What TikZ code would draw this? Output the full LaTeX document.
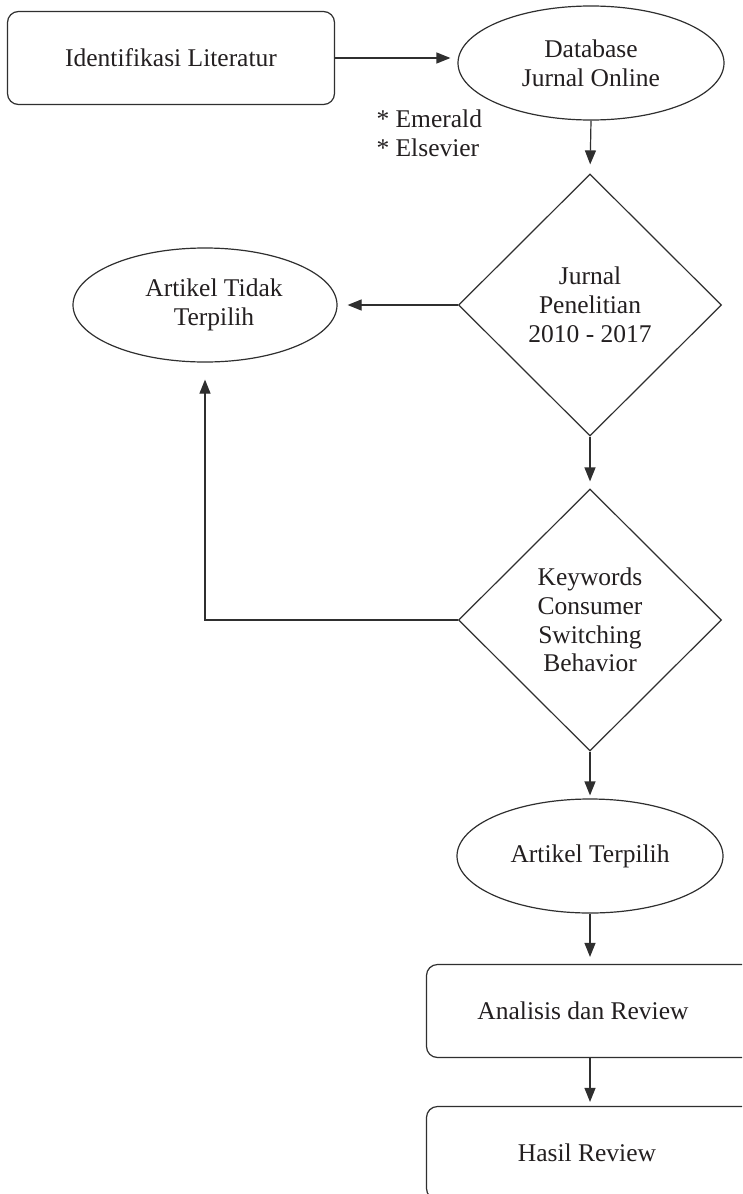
\documentclass[tikz,border=0pt]{standalone}
\usepackage{fontspec}
\setmainfont{Liberation Serif}
\usetikzlibrary{shapes.geometric,arrows.meta}
\definecolor{ln}{HTML}{2F2F2F}
\definecolor{tx}{HTML}{231F20}
\begin{document}
\begin{tikzpicture}[x=1pt,y=-1pt,
  every node/.style={font=\fontsize{25.5}{28.8}\selectfont, text=tx, align=center},
  shapeline/.style={draw=ln, line width=1.2pt},
  rbox/.style={shapeline, rectangle, rounded corners=11pt, minimum width=327pt, minimum height=93pt, inner sep=0pt},
  ell/.style={shapeline, ellipse, minimum width=266pt, minimum height=114pt, inner sep=0pt},
  dia/.style={shapeline, diamond, minimum width=263pt, minimum height=262pt, inner sep=0pt},
  lnk/.style={draw=ln, line width=1.2pt, -{Triangle[length=14pt,width=11pt]}, shorten >=7pt}
]
\useasboundingbox (0,0) rectangle (742,1194);
\fill[white] (0,0) rectangle (742,1194);
\clip (0,0) rectangle (742,1194);

\node[rbox] (ident) at (171,58) {Identifikasi Literatur};
\node[ell] (db) at (591,63) {Database\\Jurnal Online};
\node[anchor=west, align=left] (src) at (373,133) {* Emerald\\* Elsevier};
\node[dia] (d1) at (590,305) {Jurnal\\Penelitian\\2010 - 2017};
\node[ell, minimum width=264pt] (tidak) at (205,305) {\hspace*{18pt}Artikel Tidak\\\hspace*{18pt}Terpilih};
\node[dia] (d2) at (590,620) {Keywords\\Consumer\\Switching\\Behavior};
\node[ell] (pilih) at (590,856) {Artikel Terpilih};
\node[rbox] (anal) at (590,1011) {Analisis dan Review\hspace*{14pt}};
\node[rbox] (hasil) at (590,1153) {Hasil Review\hspace*{6pt}};

\draw[lnk] (ident.east) -- (ident.east -| db.west);
\draw[lnk, shorten >=9pt] (db.south) -- (d1.north);
\draw[lnk, shorten >=10pt] (d1.west) -- (d1.west -| tidak.east);
\draw[lnk] (d1.south) -- (d2.north);
\draw[lnk, shorten >=17pt] (d2.west) -| (tidak.south);
\draw[lnk, shorten >=3pt] (d2.south) -- (pilih.north);
\draw[lnk] (pilih.south) -- (anal.north);
\draw[lnk, shorten >=4pt] (anal.south) -- (hasil.north);
\end{tikzpicture}
\end{document}
